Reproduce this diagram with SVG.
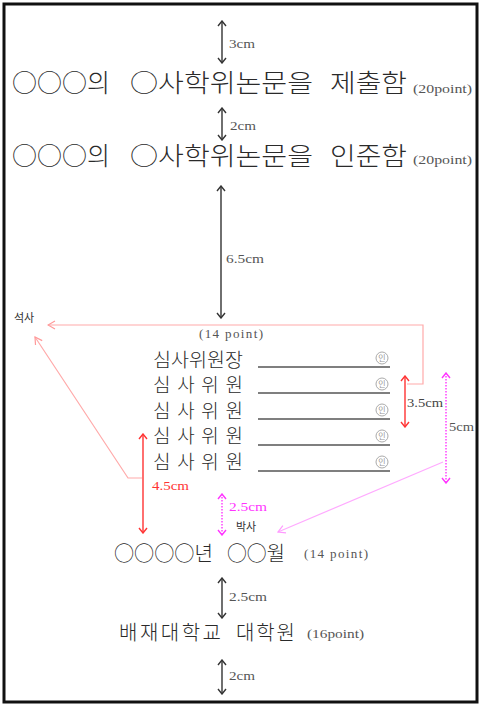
<svg xmlns="http://www.w3.org/2000/svg" width="482" height="707" viewBox="0 0 482 707">
<style>
.big{font-family:"Noto Sans CJK KR","Noto Sans",sans-serif;font-weight:300;fill:#2a2a2a}
.lab{font-family:"Liberation Serif","DejaVu Serif",serif;font-size:13px;fill:#555}
.ko{font-family:"Noto Sans CJK KR",sans-serif;font-size:11px;fill:#333}
.blk{stroke:#333;stroke-width:1.4;fill:none}
.red{stroke:#ff3333;stroke-width:1.4;fill:none}
.pink{stroke:#ffaaaa;stroke-width:1.2;fill:none}
.mag{stroke:#ff33ff;stroke-width:1.4;fill:none;stroke-dasharray:1.5 1.5}
.lmag{stroke:#ffaaff;stroke-width:1.2;fill:none}
.ul{stroke:#555;stroke-width:1.5}
.seal{fill:none;stroke:#aaa;stroke-width:1}
</style>
<defs>
<marker id="ab" viewBox="-7 -5 8 10" markerWidth="8" markerHeight="10" refX="0" refY="0" orient="auto-start-reverse" markerUnits="userSpaceOnUse"><path d="M-5,-4 L0,0 L-5,4" fill="none" stroke="#333" stroke-width="1.4"/></marker>
<marker id="ar" viewBox="-7 -5 8 10" markerWidth="8" markerHeight="10" refX="0" refY="0" orient="auto-start-reverse" markerUnits="userSpaceOnUse"><path d="M-5,-4 L0,0 L-5,4" fill="none" stroke="#ff3333" stroke-width="1.4"/></marker>
<marker id="ap" viewBox="-9 -6 10 12" markerWidth="10" markerHeight="12" refX="0" refY="0" orient="auto-start-reverse" markerUnits="userSpaceOnUse"><path d="M-7,-4 L0,0 L-7,4" fill="none" stroke="#ff9999" stroke-width="1.2"/></marker>
<marker id="am" viewBox="-7 -5 8 10" markerWidth="8" markerHeight="10" refX="0" refY="0" orient="auto-start-reverse" markerUnits="userSpaceOnUse"><path d="M-5,-4 L0,0 L-5,4" fill="none" stroke="#ff33ff" stroke-width="1.4"/></marker>
<marker id="alm" viewBox="-9 -6 10 12" markerWidth="10" markerHeight="12" refX="0" refY="0" orient="auto-start-reverse" markerUnits="userSpaceOnUse"><path d="M-7,-4 L0,0 L-7,4" fill="none" stroke="#ff99ff" stroke-width="1.2"/></marker>
</defs>
<rect x="0" y="0" width="482" height="707" fill="#fff"/>
<rect x="4" y="4" width="473" height="698" fill="none" stroke="#111" stroke-width="3"/>

<g id="connectors">
<line class="blk" x1="222" y1="21" x2="222" y2="63" marker-start="url(#ab)" marker-end="url(#ab)"/>
<line class="blk" x1="222" y1="108" x2="222" y2="140" marker-start="url(#ab)" marker-end="url(#ab)"/>
<line class="blk" x1="221" y1="186" x2="221" y2="318" marker-start="url(#ab)" marker-end="url(#ab)"/>
<line class="mag" x1="222" y1="494" x2="222" y2="535" marker-start="url(#am)" marker-end="url(#am)"/>
<line class="blk" x1="222" y1="578" x2="222" y2="618" marker-start="url(#ab)" marker-end="url(#ab)"/>
<line class="blk" x1="222" y1="660" x2="222" y2="694" marker-start="url(#ab)" marker-end="url(#ab)"/>
<line class="red" x1="143" y1="434" x2="143" y2="533" marker-start="url(#ar)" marker-end="url(#ar)"/>
<line class="red" x1="405" y1="376" x2="405" y2="427" marker-start="url(#ar)" marker-end="url(#ar)"/>
<line class="mag" x1="446" y1="373" x2="446" y2="483" marker-start="url(#am)" marker-end="url(#am)"/>
<polyline class="pink" points="407,384 423,384 423,325 48,325" marker-end="url(#ap)"/>
<polyline class="pink" points="142,478 128,478 35,337" marker-end="url(#ap)"/>
<line class="lmag" x1="443" y1="462" x2="278" y2="532" marker-end="url(#alm)"/>
</g>

<g id="title-submit">
<text class="big" font-size="25" y="92"><tspan x="12" textLength="98" lengthAdjust="spacingAndGlyphs">○○○의</tspan><tspan x="130" textLength="183" lengthAdjust="spacingAndGlyphs">○사학위논문을</tspan><tspan x="330" textLength="77" lengthAdjust="spacingAndGlyphs">제출함</tspan></text>
<text class="lab" x="413" y="93" textLength="59" lengthAdjust="spacingAndGlyphs">(20point)</text>
</g>
<g id="title-approve">
<text class="big" font-size="25" y="165"><tspan x="12" textLength="98" lengthAdjust="spacingAndGlyphs">○○○의</tspan><tspan x="130" textLength="183" lengthAdjust="spacingAndGlyphs">○사학위논문을</tspan><tspan x="330" textLength="77" lengthAdjust="spacingAndGlyphs">인준함</tspan></text>
<text class="lab" x="413" y="164" textLength="59" lengthAdjust="spacingAndGlyphs">(20point)</text>
</g>

<g id="labels">
<text class="lab" x="229" y="48" textLength="26" lengthAdjust="spacingAndGlyphs">3cm</text>
<text class="lab" x="230" y="130" textLength="26" lengthAdjust="spacingAndGlyphs">2cm</text>
<text class="lab" x="226" y="263" textLength="38" lengthAdjust="spacingAndGlyphs">6.5cm</text>
<text class="ko" x="14" y="322">석사</text>
<text class="lab" x="199" y="338" textLength="64" lengthAdjust="spacing">(14 point)</text>
<text class="lab" x="407" y="407" textLength="36" lengthAdjust="spacingAndGlyphs" style="fill:#444">3.5cm</text>
<text class="lab" x="449" y="431" textLength="25" lengthAdjust="spacingAndGlyphs">5cm</text>
<text class="lab" x="152" y="490" textLength="37" lengthAdjust="spacingAndGlyphs" style="fill:#ff3333">4.5cm</text>
<text class="lab" x="229" y="511" textLength="38" lengthAdjust="spacingAndGlyphs" style="fill:#ff33ff">2.5cm</text>
<text class="ko" x="236" y="531">박사</text>
<text class="lab" x="229" y="601" textLength="38" lengthAdjust="spacingAndGlyphs">2.5cm</text>
<text class="lab" x="229" y="680" textLength="26" lengthAdjust="spacingAndGlyphs">2cm</text>
</g>

<g id="committee">
<text class="big" font-size="19" x="153" y="367" textLength="90" lengthAdjust="spacingAndGlyphs">심사위원장</text>
<text class="big" font-size="19" x="153" y="392" textLength="90" lengthAdjust="spacing">심 사 위 원</text>
<text class="big" font-size="19" x="153" y="418" textLength="90" lengthAdjust="spacing">심 사 위 원</text>
<text class="big" font-size="19" x="153" y="443" textLength="90" lengthAdjust="spacing">심 사 위 원</text>
<text class="big" font-size="19" x="153" y="469" textLength="90" lengthAdjust="spacing">심 사 위 원</text>
<line class="ul" x1="258" y1="367" x2="390" y2="367"/>
<line class="ul" x1="258" y1="393" x2="390" y2="393"/>
<line class="ul" x1="258" y1="419" x2="390" y2="419"/>
<line class="ul" x1="258" y1="445" x2="390" y2="445"/>
<line class="ul" x1="258" y1="471" x2="390" y2="471"/>
<g font-family="Noto Sans CJK KR,sans-serif" font-size="8" fill="#999" text-anchor="middle">
<circle class="seal" cx="382" cy="358" r="6"/><text x="382" y="361">인</text>
<circle class="seal" cx="382" cy="384" r="6"/><text x="382" y="387">인</text>
<circle class="seal" cx="382" cy="410" r="6"/><text x="382" y="413">인</text>
<circle class="seal" cx="382" cy="436" r="6"/><text x="382" y="439">인</text>
<circle class="seal" cx="382" cy="462" r="6"/><text x="382" y="465">인</text>
</g>
</g>

<g id="date">
<text class="big" font-size="20" y="561"><tspan x="114" textLength="99" lengthAdjust="spacingAndGlyphs">○○○○년</tspan><tspan x="227" textLength="58" lengthAdjust="spacingAndGlyphs">○○월</tspan></text>
<text class="lab" x="304" y="558" textLength="64" lengthAdjust="spacing">(14 point)</text>
</g>

<g id="university">
<text class="big" font-size="20" y="640"><tspan x="119" textLength="102" lengthAdjust="spacing">배재대학교</tspan><tspan x="236" textLength="59" lengthAdjust="spacing">대학원</tspan></text>
<text class="lab" x="307" y="638" textLength="57" lengthAdjust="spacingAndGlyphs">(16point)</text>
</g>
</svg>
